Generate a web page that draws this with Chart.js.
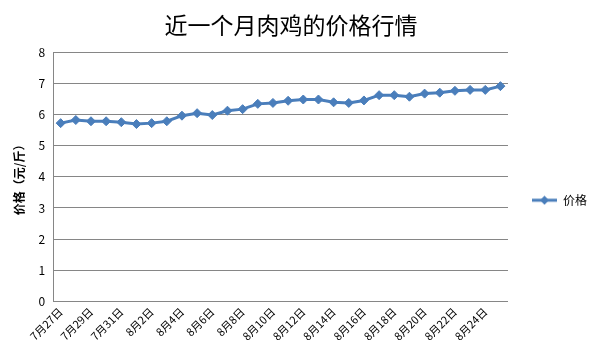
<!DOCTYPE html>
<html>
<head>
<meta charset="utf-8">
<script src="https://cdn.jsdelivr.net/npm/chart.js@4"></script>
<style>
  body { margin: 0; background: #fff; }
  #wrap { width: 597px; height: 360px; }
</style>
</head>
<body>
<div id="wrap"><canvas id="chart"></canvas></div>
<script>
const dates = [
  "7月27日", "7月28日", "7月29日", "7月30日", "7月31日", "8月1日", "8月2日", "8月3日",
  "8月4日", "8月5日", "8月6日", "8月7日", "8月8日", "8月9日", "8月10日", "8月11日",
  "8月12日", "8月13日", "8月14日", "8月15日", "8月16日", "8月17日", "8月18日", "8月19日",
  "8月20日", "8月21日", "8月22日", "8月23日", "8月24日", "8月25日"
];
const prices = [
  5.73, 5.83, 5.79, 5.79, 5.76, 5.70, 5.73, 5.79, 5.97, 6.05,
  5.99, 6.13, 6.18, 6.35, 6.38, 6.45, 6.49, 6.49, 6.40, 6.38,
  6.46, 6.63, 6.63, 6.58, 6.68, 6.71, 6.77, 6.80, 6.80, 6.92
];
const font = "'Noto Sans CJK SC', 'Noto Sans', sans-serif";
const blue = "#4a7ebb";

Chart.defaults.font.family = font;
Chart.defaults.color = "#000";

// legend marker: line with a diamond, like the series
const legendIcon = document.createElement("canvas");
legendIcon.width = 25;
legendIcon.height = 10;
(function () {
  const c = legendIcon.getContext("2d");
  c.strokeStyle = blue;
  c.lineWidth = 3;
  c.beginPath();
  c.moveTo(0, 5);
  c.lineTo(25, 5);
  c.stroke();
  c.fillStyle = blue;
  c.beginPath();
  c.moveTo(12.5, 0.5);
  c.lineTo(17, 5);
  c.lineTo(12.5, 9.5);
  c.lineTo(8, 5);
  c.closePath();
  c.fill();
})();

new Chart(document.getElementById("chart"), {
  type: "line",
  data: {
    labels: dates,
    datasets: [
      {
        label: "价格",
        data: prices,
        borderColor: blue,
        backgroundColor: blue,
        borderWidth: 3,
        pointStyle: "rectRot",
        pointRadius: 4.5,
        pointBorderWidth: 1,
        pointHoverRadius: 4.5,
        tension: 0,
      },
    ],
  },
  options: {
    responsive: true,
    maintainAspectRatio: false,
    animation: false,
    layout: { padding: { left: 8, right: 0, top: 9, bottom: 13 } },
    plugins: {
      title: {
        display: true,
        // trailing ideographic space nudges the centred title left
        text: "近一个月肉鸡的价格行情\u3000",
        font: { size: 23, weight: "normal" },
        padding: { top: 2, bottom: 14 },
      },
      legend: {
        position: "right",
        title: { display: true, text: " ", padding: { top: 30, bottom: 0 } },
        labels: {
          usePointStyle: true,
          pointStyle: legendIcon,
          pointStyleWidth: 25,
          font: { size: 12 },
          padding: 24,
        },
      },
      tooltip: { enabled: false },
    },
    scales: {
      x: {
        offset: true,
        grid: { display: false, drawTicks: false },
        border: { color: "#868686" },
        ticks: {
          autoSkip: false,
          maxRotation: 45,
          minRotation: 45,
          font: { size: 11 },
          padding: 4,
          callback: function (v, i) {
            return i % 2 === 0 ? dates[i] : "";
          },
        },
      },
      y: {
        min: 0,
        max: 8,
        ticks: { stepSize: 1, font: { size: 12 }, padding: 8 },
        grid: { color: "#868686", drawTicks: false },
        border: { color: "#868686" },
        title: {
          display: true,
          text: "价格（元/斤）",
          font: { size: 12, weight: "bold" },
        },
      },
    },
  },
});
</script>
</body>
</html>
